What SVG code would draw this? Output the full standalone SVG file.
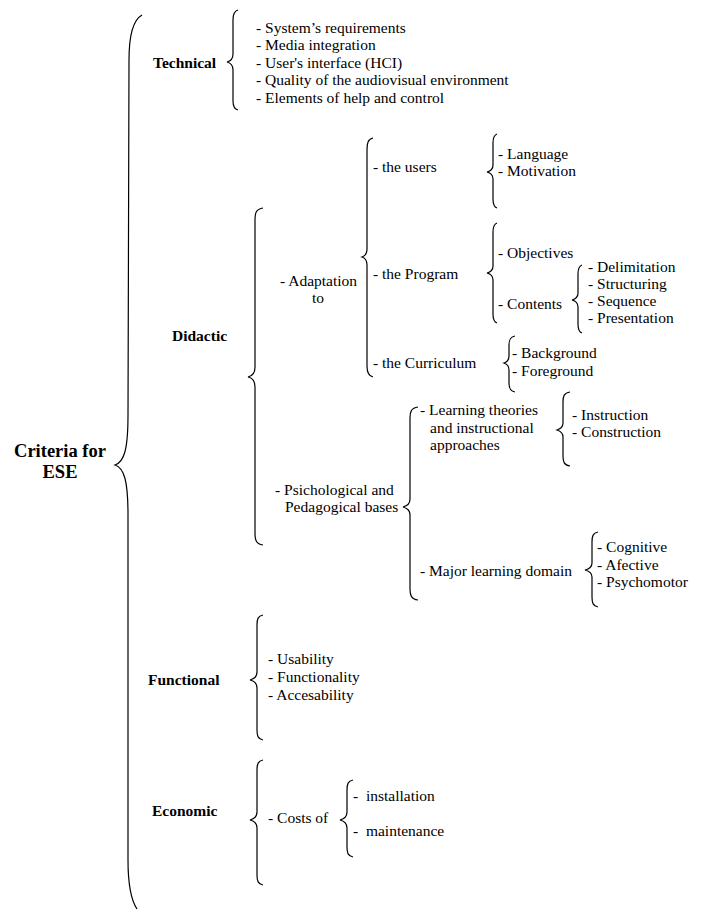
<svg xmlns="http://www.w3.org/2000/svg" width="702" height="910" viewBox="0 0 702 910">
<style>
text{font-family:"Liberation Serif","Times New Roman",serif;font-size:15.5px;fill:#000}
.b{font-weight:bold}
.big{font-size:18.5px;font-weight:bold}
.br{fill:none;stroke:#000;stroke-width:1.2}
</style>
<rect width="702" height="910" fill="#fff"/>
<g id="connectors">
<path class="br" d="M142,15 C133,20 129,35 129,60 L128,415 C128,450 124,462 115,465 C124,468 128,480 128,515 L128,860 C128,885 131,900 137,909"/>
<path class="br" d="M238,10 C234,11 233,14 233,20 L233,54 C233,59 231,61 227,62 C231,63 233,65 233,70 L233,101 C233,106 234,109 238,110"/>
<path class="br" d="M263,208 C256,209 255,213 255,220 L255,367 C255,373 253,376 248,377 C253,378 255,381 255,387 L255,533 C255,540 256,544 263,545"/>
<path class="br" d="M373,138 C368,139 367,143 367,150 L367,249 C367,254 365,256 362,257 C365,258 367,260 367,265 L367,366 C367,372 368,376 373,377"/>
<path class="br" d="M497,134 C494,135 493,138 493,143 L493,165 C493,169 491,171 487,172 C491,173 493,175 493,179 L493,199 C493,204 494,207 497,208"/>
<path class="br" d="M497,223 C494,224 493,227 493,232 L493,266 C493,270 491,272 487,273 C491,274 493,276 493,280 L493,314 C493,319 494,322 497,323"/>
<path class="br" d="M582,265 C579,266 578,269 578,274 L578,293 C578,297 576,299 572,300 C576,301 578,303 578,307 L578,324 C578,329 579,332 582,333"/>
<path class="br" d="M515,336 C510,337 509,340 509,345 L509,356 C509,360 507,362 504,363 C507,364 509,366 509,370 L509,383 C509,388 510,391 515,392"/>
<path class="br" d="M418,407 C411,408 410,412 410,418 L410,499 C410,504 407,506 403,507 C407,508 410,510 410,515 L410,589 C410,595 411,599 418,600"/>
<path class="br" d="M570,392 C564,393 563,396 563,402 L563,423 C563,427 560,429 557,430 C560,431 563,433 563,437 L563,456 C563,462 564,465 570,466"/>
<path class="br" d="M598,532 C593,533 592,536 592,542 L592,563 C592,567 589,569 585,570 C589,571 592,573 592,577 L592,597 C592,603 593,606 598,607"/>
<path class="br" d="M263,615 C258,616 257,619 257,625 L257,672 C257,677 254,679 250,680 C254,681 257,683 257,688 L257,730 C257,736 258,739 263,740"/>
<path class="br" d="M263,760 C258,761 257,764 257,770 L257,812 C257,817 254,819 250,820 C254,821 257,823 257,828 L257,875 C257,881 258,884 263,885"/>
<path class="br" d="M353,780 C348,781 347,784 347,790 L347,812 C347,817 344,819 340,820 C344,821 347,823 347,828 L347,847 C347,853 348,856 353,857"/>
</g>
<g id="root"><text class="big" x="60" y="457" text-anchor="middle">Criteria for</text><text class="big" x="60" y="478" text-anchor="middle">ESE</text></g>
<g id="technical"><text class="b" x="153" y="68">Technical</text></g>
<g id="technical-items">
<text x="256" y="32.5">- System’s requirements</text>
<text x="256" y="50">- Media integration</text>
<text x="256" y="67.5">- User's interface (HCI)</text>
<text x="256" y="85">- Quality of the audiovisual environment</text>
<text x="256" y="102.5">- Elements of help and control</text>
</g>
<g id="didactic"><text class="b" x="172" y="341">Didactic</text></g>
<g id="adaptation"><text x="280" y="286">- Adaptation</text><text x="318" y="303" text-anchor="middle">to</text></g>
<g id="users"><text x="373" y="172">- the users</text></g>
<g id="users-items"><text x="498" y="159">- Language</text><text x="498" y="176">- Motivation</text></g>
<g id="program"><text x="373" y="279">- the Program</text></g>
<g id="objectives"><text x="498" y="258">- Objectives</text></g>
<g id="contents"><text x="498" y="309">- Contents</text></g>
<g id="contents-items">
<text x="588" y="272">- Delimitation</text>
<text x="588" y="289">- Structuring</text>
<text x="588" y="306">- Sequence</text>
<text x="588" y="323">- Presentation</text>
</g>
<g id="curriculum"><text x="373" y="368">- the Curriculum</text></g>
<g id="curriculum-items"><text x="512" y="358">- Background</text><text x="512" y="376">- Foreground</text></g>
<g id="psych"><text x="275" y="495">- Psichological and</text><text x="285" y="512">Pedagogical bases</text></g>
<g id="learning"><text x="420" y="415">- Learning theories</text><text x="430" y="432.5">and instructional</text><text x="430" y="450">approaches</text></g>
<g id="learning-items"><text x="572" y="420">- Instruction</text><text x="572" y="437">- Construction</text></g>
<g id="major"><text x="420" y="576">- Major learning domain</text></g>
<g id="major-items"><text x="597" y="552">- Cognitive</text><text x="597" y="569.5">- Afective</text><text x="597" y="587">- Psychomotor</text></g>
<g id="functional"><text class="b" x="148" y="685">Functional</text></g>
<g id="functional-items"><text x="268" y="664">- Usability</text><text x="268" y="682">- Functionality</text><text x="268" y="700">- Accesability</text></g>
<g id="economic"><text class="b" x="152" y="816">Economic</text></g>
<g id="costs"><text x="268" y="823">- Costs of</text></g>
<g id="costs-items"><text x="353" y="801" xml:space="preserve">-  installation</text><text x="353" y="836" xml:space="preserve">-  maintenance</text></g>
</svg>
